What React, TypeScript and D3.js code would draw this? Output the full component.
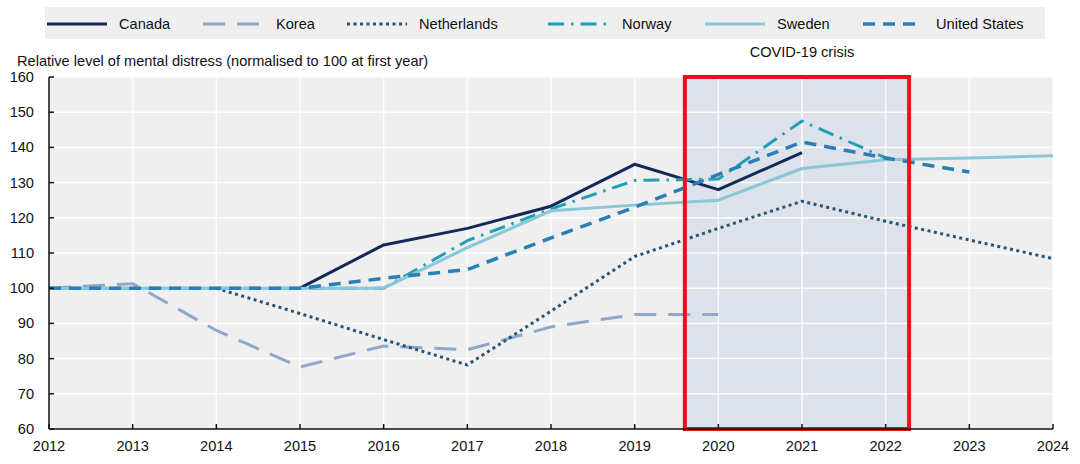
import { useEffect, useRef } from 'react'
import * as d3 from 'd3'

// x categories (years) and y ticks
const years = [2012, 2013, 2014, 2015, 2016, 2017, 2018, 2019, 2020, 2021, 2022, 2023, 2024]
const yTicks = [60, 70, 80, 90, 100, 110, 120, 130, 140, 150, 160]

// series values, aligned with years (null = no data)
const canada = [null, null, null, 100, 112.3, 117, 123.3, 135.2, 128, 138.5, null, null, null]
const korea = [100, 101.3, 88, 77.6, 83.6, 82.5, 89, 92.5, 92.5, null, null, null, null]
const netherlands = [null, null, 100, 92.8, 85.4, 78.2, 93.5, 109, 117, 124.7, 119, 113.7, 108.4]
const norway = [100, 100, 100, 100, 100, 113.5, 122.5, 130.6, 131, 147.5, 137, null, null]
const sweden = [100, 100, 100, 100, 100, 111.5, 122, 123.6, 125, 134, 136.5, 137, 137.6]
const unitedStates = [100, 100, 100, 100, 102.8, 105.3, 114.3, 123, 132.3, 141.5, 137, 133, null]

const seriesNames = ['Canada', 'Korea', 'Netherlands', 'Norway', 'Sweden', 'United States']
const seriesValues = [canada, korea, netherlands, norway, sweden, unitedStates]

// COVID-19 window (in years)
const covidWindow = [2019.6, 2022.28]
const covidLabel = 'COVID-19 crisis'
const yTitle = 'Relative level of mental distress (normalised to 100 at first year)'

const styles = [
  { color: '#14285a', width: 3, dash: null },
  { color: '#8fa8c8', width: 3, dash: '22,12' },
  { color: '#295474', width: 3, dash: '3,3.5' },
  { color: '#1fa0b4', width: 3, dash: '16,7,2.5,7' },
  { color: '#88c6d8', width: 3, dash: null },
  { color: '#2a80b6', width: 3.5, dash: '12,8' },
]

// legend layout: line start / text start
const legendLineX = [47, 203, 347, 548, 705, 863]
const legendTextX = [119, 276, 419, 622, 777, 936]

const FONT = '"Liberation Sans", Arial, sans-serif'

export default function App() {
  const svgRef = useRef<SVGSVGElement>(null)

  useEffect(() => {
    if (!svgRef.current) return
    const svg = d3.select(svgRef.current)
    svg.selectAll('*').remove()

    const width = 1080
    const height = 464
    const left = 49
    const right = 1053
    const top = 77
    const bottom = 429

    svg.attr('width', width).attr('height', height).attr('viewBox', `0 0 ${width} ${height}`)
      .style('font-family', FONT)

    const x = d3.scaleLinear().domain([2012, 2024]).range([left, right])
    const y = d3.scaleLinear().domain([60, 160]).range([bottom, top])

    // Legend box
    svg.append('rect')
      .attr('x', 45).attr('y', 7)
      .attr('width', 1000).attr('height', 32)
      .attr('fill', '#efefef')

    seriesNames.forEach((name, i) => {
      const s = styles[i]
      svg.append('line')
        .attr('x1', legendLineX[i]).attr('x2', legendLineX[i] + 60)
        .attr('y1', 24).attr('y2', 24)
        .attr('stroke', s.color)
        .attr('stroke-width', s.width)
        .attr('stroke-dasharray', s.dash)
      svg.append('text')
        .attr('x', legendTextX[i]).attr('y', 29)
        .attr('font-size', '14.6px')
        .attr('fill', '#111')
        .text(name)
    })

    // Plot background
    svg.append('rect')
      .attr('x', left).attr('y', top)
      .attr('width', right - left).attr('height', bottom - top)
      .attr('fill', '#efefef')

    // COVID shading
    svg.append('rect')
      .attr('x', x(covidWindow[0])).attr('y', top)
      .attr('width', x(covidWindow[1]) - x(covidWindow[0]))
      .attr('height', bottom - top)
      .attr('fill', '#dde1ea')

    // Grid
    const grid = svg.append('g').attr('stroke', '#ffffff').attr('stroke-width', 1.5).attr('opacity', 0.9)
    yTicks.slice(1).forEach(t => {
      grid.append('line').attr('x1', left).attr('x2', right).attr('y1', y(t)).attr('y2', y(t))
    })
    years.slice(1).forEach(t => {
      grid.append('line').attr('x1', x(t)).attr('x2', x(t)).attr('y1', top).attr('y2', bottom)
    })

    // Lines
    const line = d3.line<number | null>()
      .defined(d => d != null)
      .x((_d, i) => x(years[i]))
      .y(d => y(d as number))

    seriesValues.forEach((vals, i) => {
      const s = styles[i]
      svg.append('path')
        .datum(vals)
        .attr('fill', 'none')
        .attr('stroke', s.color)
        .attr('stroke-width', s.width)
        .attr('stroke-dasharray', s.dash)
        .attr('stroke-linejoin', 'round')
        .attr('d', line)
    })

    // COVID outline
    svg.append('rect')
      .attr('x', x(covidWindow[0])).attr('y', top)
      .attr('width', x(covidWindow[1]) - x(covidWindow[0]))
      .attr('height', bottom - top)
      .attr('fill', 'none')
      .attr('stroke', '#e3141c')
      .attr('stroke-width', 4)

    svg.append('text')
      .attr('x', x(2021)).attr('y', 57)
      .attr('text-anchor', 'middle')
      .attr('font-size', '14.6px')
      .attr('fill', '#111')
      .text(covidLabel)

    // Axes
    const axes = svg.append('g').attr('stroke', '#111').attr('stroke-width', 1.5)
    axes.append('line').attr('x1', left).attr('x2', left).attr('y1', top).attr('y2', bottom)
    axes.append('line').attr('x1', left).attr('x2', right).attr('y1', bottom).attr('y2', bottom)
    yTicks.forEach(t => {
      axes.append('line').attr('x1', left).attr('x2', left + 5).attr('y1', y(t)).attr('y2', y(t))
    })
    years.forEach(t => {
      axes.append('line').attr('x1', x(t)).attr('x2', x(t)).attr('y1', bottom).attr('y2', bottom - 5)
    })

    yTicks.forEach(t => {
      svg.append('text')
        .attr('x', 34).attr('y', y(t) + 5)
        .attr('text-anchor', 'end')
        .attr('font-size', '14.6px')
        .attr('fill', '#111')
        .text(t)
    })
    years.forEach(t => {
      svg.append('text')
        .attr('x', x(t)).attr('y', 451)
        .attr('text-anchor', 'middle')
        .attr('font-size', '14.6px')
        .attr('fill', '#111')
        .text(t)
    })

    svg.append('text')
      .attr('x', 17).attr('y', 66)
      .attr('font-size', '14.6px')
      .attr('fill', '#111')
      .text(yTitle)
  }, [])

  return (
    <div style={{ position: 'absolute', left: 0, top: 0 }}>
      <svg ref={svgRef} style={{ display: 'block' }} />
    </div>
  )
}
